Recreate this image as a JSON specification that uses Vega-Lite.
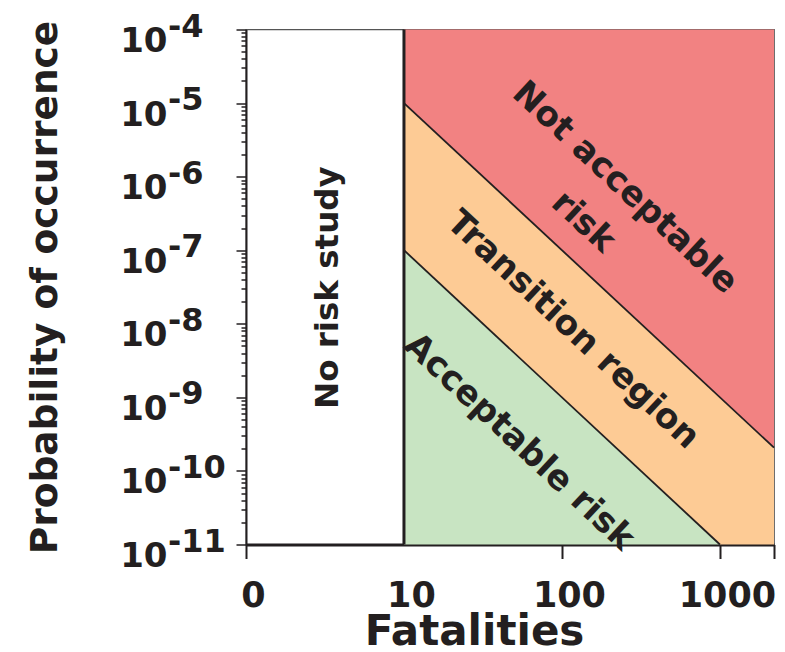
{
  "$schema": "https://vega.github.io/schema/vega-lite/v6.json",
  "width": 528,
  "height": 515,
  "autosize": "none",
  "padding": {"left": 246, "top": 29.5, "right": 11, "bottom": 107.5},
  "background": "white",
  "config": {"view": {"stroke": "#555", "strokeWidth": 1.3}, "font": "DejaVu Sans"},
  "datasets": {
    "regions": [
      {"region": "Not acceptable", "fatalities": 10, "lo": 1e-5, "hi": 1e-4},
      {"region": "Not acceptable", "fatalities": 2200, "lo": 2.07e-10, "hi": 1e-4},
      {"region": "Transition", "fatalities": 10, "lo": 1e-7, "hi": 1e-5},
      {"region": "Transition", "fatalities": 1000, "lo": 1e-11, "hi": 1e-9},
      {"region": "Transition", "fatalities": 2200, "lo": 1e-11, "hi": 2.07e-10},
      {"region": "Acceptable", "fatalities": 10, "lo": 1e-11, "hi": 1e-7},
      {"region": "Acceptable", "fatalities": 1000, "lo": 1e-11, "hi": 1e-11}
    ],
    "bounds": [
      {"line": "upper", "fatalities": 10, "p": 1e-5},
      {"line": "upper", "fatalities": 2200, "p": 2.07e-10},
      {"line": "lower", "fatalities": 10, "p": 1e-7},
      {"line": "lower", "fatalities": 1000, "p": 1e-11}
    ],
    "labels": [
      {"label": "Not acceptable", "fatalities": 250, "p": 7.0e-7},
      {"label": "risk", "fatalities": 136, "p": 2.4e-7},
      {"label": "Transition region", "fatalities": 117, "p": 8.2e-9},
      {"label": "Acceptable risk", "fatalities": 53.5, "p": 2.44e-10}
    ],
    "side": [
      {"label": "No risk study", "fatalities": 3.3, "p": 3.1e-8}
    ],
    "exps": [
      {"p": 1e-4, "e": "-4"},
      {"p": 1e-5, "e": "-5"},
      {"p": 1e-6, "e": "-6"},
      {"p": 1e-7, "e": "-7"},
      {"p": 1e-8, "e": "-8"},
      {"p": 1e-9, "e": "-9"},
      {"p": 1e-10, "e": "-10"},
      {"p": 1e-11, "e": "-11"}
    ]
  },
  "layer": [
    {
      "data": {"name": "regions"},
      "mark": {"type": "area", "opacity": 1},
      "encoding": {
        "x": {
          "field": "fatalities", "type": "quantitative",
          "scale": {"type": "log", "domain": [1, 2200], "nice": false},
          "axis": {
            "title": "Fatalities",
            "titleFontSize": 42, "titleFontWeight": "bold", "titleColor": "#231F20", "titlePadding": -2,
            "titleX": 228,
            "values": [1, 10, 100, 1000, 2200],
            "labelExpr": "datum.value < 2 ? '0' : datum.value > 1500 ? '' : format(datum.value, 'd')",
            "labelFontSize": 35, "labelFontWeight": "bold", "labelColor": "#231F20",
            "labelPadding": 20, "labelOffset": 7, "labelFlush": false, "labelOverlap": false,
            "tickSize": 14, "tickWidth": 2, "tickColor": "#231F20",
            "tickOpacity": {"condition": {"test": "datum.value == 10", "value": 0}, "value": 1},
            "domainWidth": 3, "domainColor": "#231F20", "grid": false
          }
        },
        "y": {
          "field": "lo", "type": "quantitative",
          "scale": {"type": "log", "domain": [1e-11, 1e-4], "nice": false},
          "axis": {
            "title": "Probability of occurrence",
            "titleFontSize": 37.5, "titleFontWeight": "bold", "titleColor": "#231F20", "titlePadding": 55,
            "values": [1e-11, 2e-11, 3e-11, 4e-11, 5e-11, 6e-11, 7e-11, 8e-11, 9e-11,
                       1e-10, 2e-10, 3e-10, 4e-10, 5e-10, 6e-10, 7e-10, 8e-10, 9e-10,
                       1e-9, 2e-9, 3e-9, 4e-9, 5e-9, 6e-9, 7e-9, 8e-9, 9e-9,
                       1e-8, 2e-8, 3e-8, 4e-8, 5e-8, 6e-8, 7e-8, 8e-8, 9e-8,
                       1e-7, 2e-7, 3e-7, 4e-7, 5e-7, 6e-7, 7e-7, 8e-7, 9e-7,
                       1e-6, 2e-6, 3e-6, 4e-6, 5e-6, 6e-6, 7e-6, 8e-6, 9e-6,
                       1e-5, 2e-5, 3e-5, 4e-5, 5e-5, 6e-5, 7e-5, 8e-5, 9e-5, 1e-4],
            "labelExpr": "abs(log(datum.value)/LN10 - round(log(datum.value)/LN10)) < 0.001 ? '10' : ''",
            "labelFontSize": 34, "labelFontWeight": "bold", "labelColor": "#231F20",
            "labelAlign": "right", "labelBaseline": "middle", "labelOffset": 12, "labelPadding": 69,
            "labelOverlap": false, "labelFlush": false,
            "tickSize": {"condition": {"test": "abs(log(datum.value)/LN10 - round(log(datum.value)/LN10)) < 0.001", "value": 10}, "value": 5},
            "tickWidth": 1.5, "tickColor": "#231F20",
            "domainWidth": 2, "domainColor": "#231F20", "grid": false
          }
        },
        "y2": {"field": "hi"},
        "color": {
          "field": "region", "type": "nominal",
          "scale": {"domain": ["Not acceptable", "Transition", "Acceptable"], "range": ["#F28282", "#FDCB95", "#C8E4C2"]},
          "legend": null
        }
      }
    },
    {
      "data": {"name": "bounds"},
      "mark": {"type": "line", "color": "#231F20", "strokeWidth": 1.8},
      "encoding": {
        "x": {"field": "fatalities", "type": "quantitative"},
        "y": {"field": "p", "type": "quantitative"},
        "detail": {"field": "line"}
      }
    },
    {
      "data": {"values": [{}]},
      "mark": {"type": "rule", "color": "#231F20", "strokeWidth": 3},
      "encoding": {
        "x": {"datum": 10},
        "y": {"datum": 1e-11},
        "y2": {"datum": 1e-4}
      }
    },
    {
      "data": {"name": "labels"},
      "mark": {"type": "text", "angle": 43, "font": "DejaVu Sans", "fontWeight": "bold", "fontSize": 34.5, "color": "#231F20", "align": "center", "baseline": "middle"},
      "encoding": {
        "x": {"field": "fatalities", "type": "quantitative"},
        "y": {"field": "p", "type": "quantitative"},
        "text": {"field": "label"}
      }
    },
    {
      "data": {"name": "side"},
      "mark": {"type": "text", "angle": 270, "font": "DejaVu Sans", "fontWeight": "bold", "fontSize": 32.5, "color": "#231F20", "align": "center", "baseline": "middle"},
      "encoding": {
        "x": {"field": "fatalities", "type": "quantitative"},
        "y": {"field": "p", "type": "quantitative"},
        "text": {"field": "label"}
      }
    },
    {
      "data": {"name": "exps"},
      "mark": {"type": "text", "font": "DejaVu Sans", "fontWeight": "bold", "fontSize": 32, "color": "#231F20", "align": "left", "baseline": "middle", "dx": -78, "dy": -3},
      "encoding": {
        "x": {"datum": 1},
        "y": {"field": "p", "type": "quantitative"},
        "text": {"field": "e"}
      }
    }
  ]
}
